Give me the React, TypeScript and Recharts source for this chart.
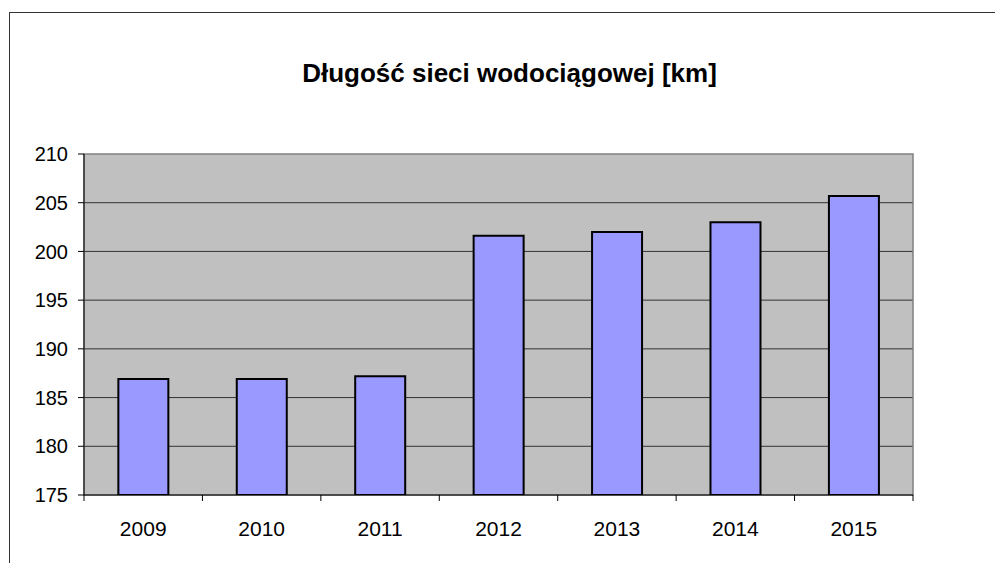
import { Bar, BarChart, CartesianGrid, ReferenceArea, XAxis, YAxis } from "recharts";

const TITLE = "Długość sieci wodociągowej [km]";
const years = ["2009", "2010", "2011", "2012", "2013", "2014", "2015"];
const lengthKm = [186.9, 186.9, 187.2, 201.6, 202.0, 203.0, 205.7];
const yTicks = [175, 180, 185, 190, 195, 200, 205, 210];

const data = years.map((year, i) => ({ year, km: lengthKm[i] }));

const FONT = "'Liberation Sans', Arial, sans-serif";

function YearTick(props: any) {
  const { x, y, payload, index, visibleTicksCount } = props;
  const half = payload?.offset ?? 59;
  const isLast = index === visibleTicksCount - 1;
  return (
    <g>
      <line x1={x - half} x2={x - half} y1={y - 8} y2={y - 2} stroke="#000" />
      {isLast && (
        <line x1={x + half} x2={x + half} y1={y - 8} y2={y - 2} stroke="#000" />
      )}
      <text
        x={x}
        y={y + 33}
        textAnchor="middle"
        fontSize={21}
        fontFamily={FONT}
        fill="#000"
      >
        {payload.value}
      </text>
    </g>
  );
}

export default function App() {
  return (
    <div
      style={{
        position: "absolute",
        left: 0,
        top: 0,
        width: 995,
        height: 563,
        background: "#fff",
        overflow: "hidden",
      }}
    >
      <div
        style={{
          position: "absolute",
          left: 9,
          top: 12,
          width: 1100,
          height: 700,
          border: "1px solid #333",
        }}
      />
      <div
        style={{
          position: "absolute",
          left: 0,
          width: 1019,
          top: 58,
          textAlign: "center",
          fontFamily: FONT,
          fontWeight: "bold",
          fontSize: 26,
          lineHeight: "30px",
        }}
      >
        {TITLE}
      </div>
      <div style={{ position: "absolute", left: 0, top: 0 }}>
        <BarChart
          width={995}
          height={563}
          data={data}
          barCategoryGap="29%"
          margin={{ top: 154, right: 82, bottom: 38, left: 24 }}
        >
          <CartesianGrid
            vertical={false}
            fill="#C0C0C0"
            stroke="#333"
            horizontalValues={[180, 185, 190, 195, 200, 205]}
          />
          <ReferenceArea
            y1={175}
            y2={210}
            fill="none"
            stroke="#808080"
            strokeWidth={1.5}
            ifOverflow="visible"
          />
          <XAxis
            dataKey="year"
            stroke="#000"
            tickLine={false}
            tick={<YearTick />}
            height={30}
            interval={0}
          />
          <YAxis
            domain={[175, 210]}
            ticks={yTicks}
            allowDataOverflow
            stroke="#000"
            tickSize={6}
            tickMargin={10}
            width={60}
            tick={{ fontSize: 20, fontFamily: FONT, fill: "#000" }}
          />
          <Bar
            dataKey="km"
            fill="#9999FF"
            stroke="#000"
            strokeWidth={2}
            isAnimationActive={false}
          />
        </BarChart>
      </div>
    </div>
  );
}
